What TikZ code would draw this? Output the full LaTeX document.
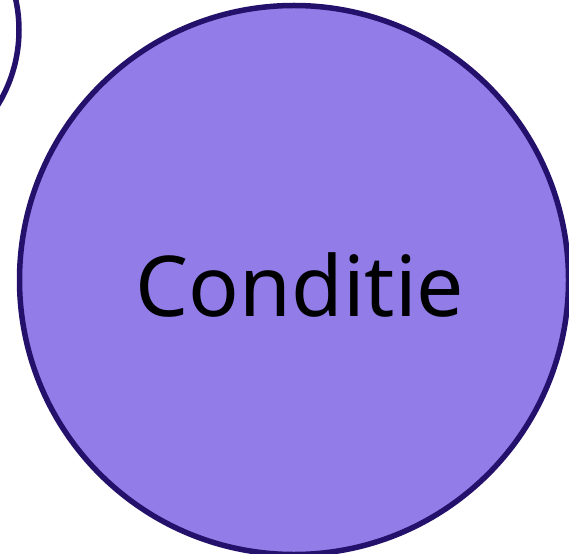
\documentclass[tikz,border=0pt]{standalone}
\usepackage{fontspec}
\setmainfont{Noto Sans}
\usetikzlibrary{positioning}
\definecolor{setfill}{HTML}{917CE8}
\definecolor{setline}{HTML}{24116B}

\begin{document}
\begin{tikzpicture}[
  x=1pt, y=1pt,
  set/.style={circle, draw=setline, line width=5.5pt, inner sep=0pt, align=center},
  bigset/.style={set, fill=setfill, minimum size=549pt},
  smallset/.style={set, fill=white, minimum size=286pt},
  settext/.style={font=\fontsize{84}{100}\selectfont, xshift=6pt, yshift=-5pt}
]
\useasboundingbox (0,0) rectangle (569,-553);

% Verzamelingen
\node[smallset] (other) at (-124,-30) {};
\node[bigset, label={[settext]center:Conditie}] (cond) at (294,-280) {};

\end{tikzpicture}
\end{document}
